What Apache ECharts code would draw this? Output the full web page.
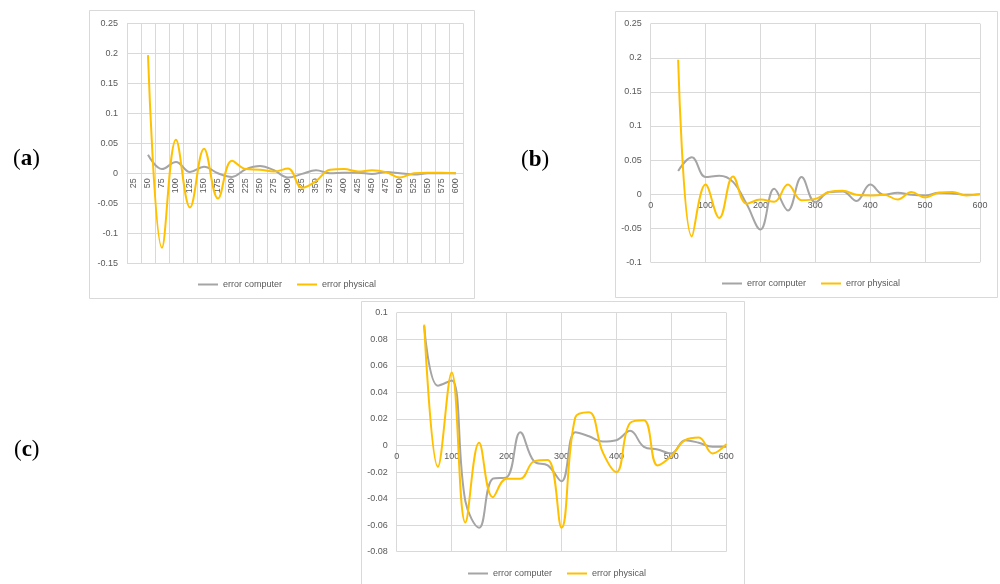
<!DOCTYPE html>
<html>
<head>
<meta charset="utf-8">
<script src="https://cdn.jsdelivr.net/npm/echarts@6/dist/echarts.min.js"></script>
<style>
  html, body { margin: 0; padding: 0; background: #ffffff; }
  #chart { width: 1000px; height: 584px; }
</style>
</head>
<body>
<div id="chart"></div>
<script>
// Panel (a): category axis 25..600
const categoriesA = ['25','50','75','100','125','150','175','200','225','250','275','300',
  '325','350','375','400','425','450','475','500','525','550','575','600'];
const computerA = [null, 0.031, 0.007, 0.019, 0.002, 0.011, 0.000, -0.006, 0.007, 0.012, 0.005, -0.007,
  -0.001, 0.005, 0.000, 0.001, 0.001, -0.001, 0.002, 0.000, -0.002, 0.000, 0.000, 0.000];
const physicalA = [null, 0.197, -0.124, 0.056, -0.057, 0.041, -0.042, 0.021, 0.007, 0.006, 0.003, 0.008,
  -0.024, -0.013, 0.006, 0.007, 0.003, 0.005, 0.002, -0.007, 0.000, 0.001, 0.001, 0.000];

// Panels (b) and (c): numeric x positions
const stepsBC = [50, 75, 100, 125, 150, 175, 200, 225, 250, 275, 300, 325,
  350, 375, 400, 425, 450, 475, 500, 525, 550, 575, 600];
const computerB = [0.034, 0.054, 0.025, 0.027, 0.018, -0.015, -0.052, 0.008, -0.024, 0.025, -0.012, 0.003,
  0.004, -0.010, 0.014, -0.001, 0.002, -0.001, -0.002, 0.002, 0.001, -0.001, 0.000];
const physicalB = [0.197, -0.062, 0.014, -0.035, 0.026, -0.014, -0.008, -0.011, 0.014, -0.009, -0.007, 0.003,
  0.005, -0.001, -0.002, -0.001, -0.008, 0.003, -0.005, 0.002, 0.003, -0.002, 0.000];
const computerC = [0.090, 0.045, 0.049, -0.042, -0.062, -0.025, -0.024, 0.010, -0.012, -0.015, -0.027, 0.010,
  0.007, 0.003, 0.004, 0.011, -0.001, -0.003, -0.006, 0.004, 0.002, -0.001, -0.001];
const physicalC = [0.091, -0.016, 0.055, -0.058, 0.002, -0.039, -0.025, -0.025, -0.012, -0.011, -0.062, 0.021,
  0.025, -0.005, -0.020, 0.017, 0.019, -0.015, -0.008, 0.004, 0.006, -0.006, 0.001];

const seriesNames = ['error computer', 'error physical'];
const panelLetters = ['a', 'b', 'c'];

const GRAY = '#A5A5A5';
const GOLD = '#FFC000';
const GRID_LINE = '#D9D9D9';
const TEXT = '#595959';
const FONT = '"Liberation Sans", Arial, sans-serif';

const pairs = (xs, ys) => xs.map((x, i) => [x, ys[i]]);
const fmt = v => String(Math.round(v * 1000) / 1000);

function valueY(idx, min, max, interval) {
  return {
    type: 'value', gridIndex: idx, min, max, interval,
    axisLine: { show: false, onZero: false }, axisTick: { show: false },
    splitLine: { show: true, lineStyle: { color: GRID_LINE, width: 1 } },
    axisLabel: { color: TEXT, fontSize: 9, fontFamily: FONT, margin: 9, formatter: fmt }
  };
}
function valueX(idx) {
  return {
    type: 'value', gridIndex: idx, min: 0, max: 600, interval: 100, position: 'bottom', z: 0,
    axisLine: { show: true, onZero: false, lineStyle: { color: GRID_LINE, width: 1 } },
    axisTick: { show: false },
    splitLine: { show: true, lineStyle: { color: GRID_LINE, width: 1 } },
    axisLabel: { color: TEXT, fontSize: 9, fontFamily: FONT, margin: 7 }
  };
}
function lineSeries(name, color, idx, data) {
  return {
    name, type: 'line', xAxisIndex: idx, yAxisIndex: idx, data, z: 3,
    smooth: 0.4, symbol: 'none', connectNulls: false,
    lineStyle: { color, width: 2 }, itemStyle: { color },
    emphasis: { disabled: true }
  };
}
function legendAt(left, top) {
  return {
    data: seriesNames, left, top, orient: 'horizontal', padding: 0,
    icon: 'rect', itemWidth: 20, itemHeight: 2, itemGap: 15,
    textStyle: { color: TEXT, fontSize: 9, fontFamily: FONT },
    selectedMode: false
  };
}
function frame(x, y, w, h) {
  return { type: 'rect', silent: true, z: -10,
    shape: { x, y, width: w, height: h },
    style: { fill: '#ffffff', stroke: GRID_LINE, lineWidth: 1 } };
}
function panelLabel(letter, x, y) {
  const serif = '"Liberation Serif", "DejaVu Serif", serif';
  return { type: 'text', silent: true, x, y,
    style: {
      text: '{p|(}{b|' + letter + '}{p|)}',
      verticalAlign: 'middle',
      rich: {
        p: { fontFamily: serif, fontSize: 23, fill: '#000' },
        b: { fontFamily: serif, fontSize: 23, fontWeight: 'bold', fill: '#000' }
      }
    } };
}

const grids = [
  { left: 127, top: 23.3, width: 336, height: 240 },
  { left: 650.7, top: 23.7, width: 329.3, height: 238.6 },
  { left: 396.7, top: 312.7, width: 329.6, height: 239 }
];

const option = {
  backgroundColor: '#ffffff',
  animation: false,
  graphic: [
    frame(89.5, 10.5, 385, 288),
    frame(615.5, 11.5, 382, 286),
    frame(361.5, 301.5, 383, 290),
    panelLabel(panelLetters[0], 13, 159),
    panelLabel(panelLetters[1], 521, 160),
    panelLabel(panelLetters[2], 14, 450)
  ],
  grid: grids,
  xAxis: [
    {
      type: 'category', gridIndex: 0, data: categoriesA, boundaryGap: true, position: 'bottom', z: 0,
      axisLine: { show: true, onZero: false, lineStyle: { color: GRID_LINE, width: 1 } },
      axisTick: { show: false },
      splitLine: { show: true, lineStyle: { color: GRID_LINE, width: 1 } },
      axisLabel: { color: TEXT, fontSize: 9, fontFamily: FONT, rotate: 90, margin: 5, interval: 0 }
    },
    valueX(1),
    valueX(2)
  ],
  yAxis: [
    valueY(0, -0.15, 0.25, 0.05),
    valueY(1, -0.1, 0.25, 0.05),
    valueY(2, -0.08, 0.1, 0.02)
  ],
  legend: [
    legendAt(198, 280),
    legendAt(722, 279),
    legendAt(468, 569)
  ],
  series: [
    lineSeries(seriesNames[0], GRAY, 0, computerA),
    lineSeries(seriesNames[1], GOLD, 0, physicalA),
    lineSeries(seriesNames[0], GRAY, 1, pairs(stepsBC, computerB)),
    lineSeries(seriesNames[1], GOLD, 1, pairs(stepsBC, physicalB)),
    lineSeries(seriesNames[0], GRAY, 2, pairs(stepsBC, computerC)),
    lineSeries(seriesNames[1], GOLD, 2, pairs(stepsBC, physicalC))
  ]
};

const chart = echarts.init(document.getElementById('chart'), null, { renderer: 'canvas' });
chart.setOption(option);

// Move each horizontal axis up so it crosses the vertical axis at zero
const offsets = grids.map((g, i) => {
  const zeroPx = chart.convertToPixel({ yAxisIndex: i }, 0);
  return zeroPx - (g.top + g.height);
});
chart.setOption({ xAxis: offsets.map(o => ({ offset: o })) });
</script>
</body>
</html>
